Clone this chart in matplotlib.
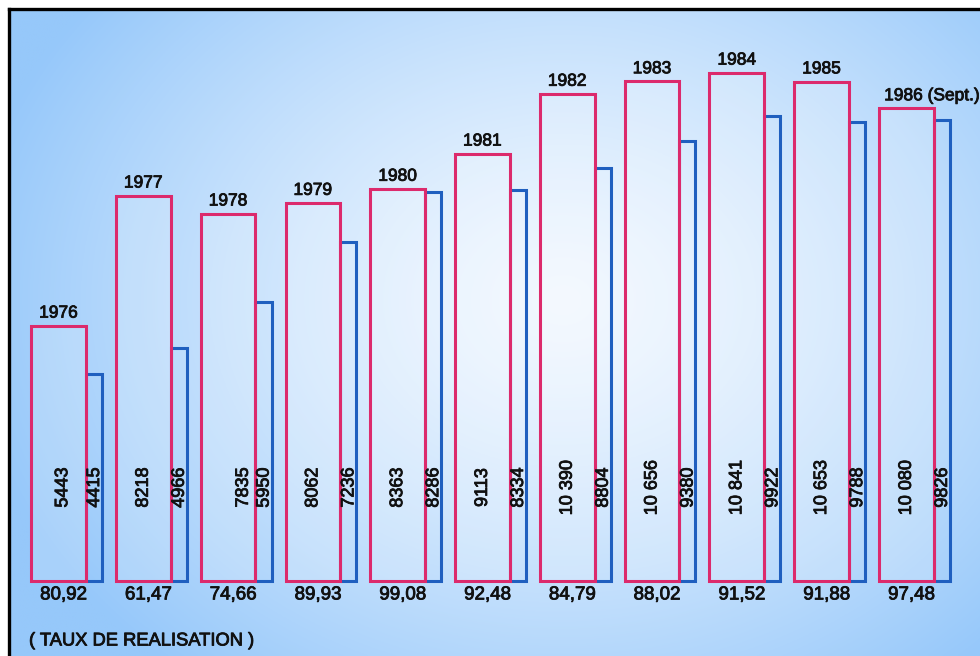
import numpy as np
import matplotlib.pyplot as plt
import matplotlib.patheffects as pe

# data
years = ["1976", "1977", "1978", "1979", "1980", "1981",
         "1982", "1983", "1984", "1985", "1986 (Sept.)"]
prevu = [5443, 8218, 7835, 8062, 8363, 9113, 10390, 10656, 10841, 10653, 10080]
realise = [4415, 4966, 5950, 7236, 8286, 8334, 8804, 9380, 9922, 9788, 9826]
taux = ["80,92", "61,47", "74,66", "89,93", "99,08", "92,48",
        "84,79", "88,02", "91,52", "91,88", "97,48"]


def fmt(v):
    # French thousands separator (space) above 9999
    return f"{v:,}".replace(",", " ") if v >= 10000 else str(v)


plt.rcParams['font.family'] = ['Liberation Sans', 'DejaVu Sans']

fig = plt.figure(figsize=(9.8, 6.56), dpi=100)
fig.patch.set_facecolor('white')
ax = fig.add_axes([9 / 980, 0, 971 / 980, 647 / 656])

# radial light-blue background
ny, nx = 400, 600
yy, xx = np.mgrid[0:1:ny * 1j, 0:1:nx * 1j]
r = np.sqrt(((xx - 0.57) / 0.62) ** 2 + ((yy - 0.45) / 0.75) ** 2)
t = np.clip(r, 0, 1) ** 1.3
edge = np.array([150, 200, 250]) / 255
centre = np.array([242, 248, 255]) / 255
img = centre[None, None, :] * (1 - t[..., None]) + edge[None, None, :] * t[..., None]
ax.imshow(img, extent=[0, 1, 0, 1], transform=ax.transAxes, aspect='auto',
          origin='upper', zorder=0)

x = np.arange(len(years))
w_pink = 0.645
w_blue = 0.19
pink = '#dc2a6c'
blue = '#1f5fbf'

ax.bar(x + w_pink / 2, realise, width=w_blue, align='edge',
       edgecolor=blue, linewidth=2.2, zorder=2, fill=False)
ax.bar(x, prevu, width=w_pink, facecolor=(1, 1, 1, 0.18), edgecolor=pink,
       linewidth=2.2, zorder=3)

ink = '#111111'
heavy = [pe.withStroke(linewidth=0.6, foreground=ink)]
txt = dict(color=ink, zorder=4, path_effects=heavy)

shift = {0: 0.05, 2: 0.18}
for i in range(len(years)):
    if i == len(years) - 1:
        ax.text(x[i] - w_pink / 2 + 0.06, prevu[i] + 110, years[i], ha='left',
                va='bottom', fontsize=12.5, **txt)
    else:
        ax.text(x[i], prevu[i] + 110, years[i], ha='center', va='bottom',
                fontsize=12.5, **txt)
    ax.text(x[i] + shift.get(i, 0), 1990, fmt(prevu[i]), rotation=90,
            ha='center', va='center', fontsize=13, **txt)
    ax.text(x[i] + 0.425, 1990, fmt(realise[i]), rotation=90,
            ha='center', va='center', fontsize=13, **txt)
    ax.text(x[i] + 0.06, -300, taux[i], ha='center', va='center',
            fontsize=13.5, **txt)

ax.text(-0.348, -1282, "( TAUX DE REALISATION )", ha='left', va='center',
        fontsize=13.2, **txt)

ax.set_xlim(-0.584, 10.868)
ax.set_ylim(-1603, 12201)
ax.set_xticks([])
ax.set_yticks([])
for s in ['right', 'bottom']:
    ax.spines[s].set_visible(False)
for s in ['top', 'left']:
    ax.spines[s].set_linewidth(2.4)
    ax.spines[s].set_color('black')

plt.savefig('out.png', dpi=100)
